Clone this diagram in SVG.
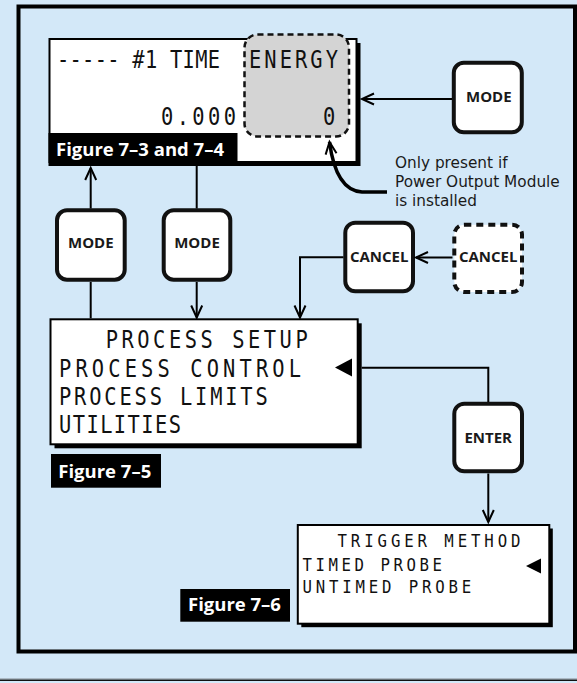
<svg xmlns="http://www.w3.org/2000/svg" width="577" height="683" viewBox="0 0 577 683">
<defs>
<style>
.lcd{font-family:"DejaVu Sans Mono",monospace;fill:#111;}
.big{font-size:24px;}
.sm{font-size:18.5px;}
.btn{fill:#fff;stroke:#111;stroke-width:4;}
.btxt{font-family:"Open Sans","Liberation Sans",sans-serif;font-weight:700;font-size:15px;fill:#1a1a1a;text-anchor:middle;}
.lbl{font-family:"Open Sans","Liberation Sans",sans-serif;font-weight:700;font-size:18.5px;fill:#fff;}
.note{font-family:"DejaVu Sans",sans-serif;font-size:15.3px;fill:#1a1a1a;}
.con{fill:none;stroke:#000;stroke-width:2;}
</style>
<marker id="arr" markerWidth="16" markerHeight="14" refX="13" refY="7" orient="auto" markerUnits="userSpaceOnUse">
<path d="M1,1.5 L13,7 L1,12.5" fill="none" stroke="#000" stroke-width="2"/>
</marker>
</defs>
<rect x="0" y="0" width="577" height="683" fill="#d3e8f8"/>
<rect x="18.5" y="6.5" width="556.5" height="645" fill="none" stroke="#000" stroke-width="4"/>
<line x1="0" y1="678.8" x2="577" y2="678.8" stroke="#9aa6b0" stroke-width="1"/>
<line x1="0" y1="680.2" x2="577" y2="680.2" stroke="#111" stroke-width="1.6"/>

<g id="display-main">
<rect x="53.5" y="43" width="307" height="123" fill="#000"/>
<rect x="49.5" y="39" width="307" height="123" fill="#fff" stroke="#000" stroke-width="2"/>
<rect x="244.5" y="34.5" width="104.5" height="102" rx="13" fill="#d4d4d4" stroke="#111" stroke-width="2.5" stroke-dasharray="6 4"/>
<text class="lcd big" transform="translate(57,67.7) scale(0.85,1)" x="0" y="0" textLength="191.8" lengthAdjust="spacing">----- #1 TIME</text>
<text class="lcd big" transform="translate(249,67.7) scale(0.85,1)" x="0" y="0" textLength="104.7" lengthAdjust="spacing">ENERGY</text>
<text class="lcd big" transform="translate(161,125) scale(0.85,1)" x="0" y="0" textLength="88.2" lengthAdjust="spacing">0.000</text>
<text class="lcd big" transform="translate(323,125) scale(0.85,1)" x="0" y="0">0</text>
<rect x="48.5" y="133" width="189" height="33" fill="#000"/>
<text class="lbl" x="56" y="156">Figure 7–3 and 7–4</text>
</g>

<g id="display-process-setup">
<rect x="54.5" y="323.3" width="307.2" height="125" fill="#000"/>
<rect x="50.5" y="319.3" width="307.2" height="125" fill="#fff" stroke="#000" stroke-width="2"/>
<text class="lcd big" transform="translate(105.7,348.3) scale(0.85,1)" x="0" y="0" textLength="237.6" lengthAdjust="spacing">PROCESS  SETUP</text>
<text class="lcd big" transform="translate(59,376.6) scale(0.85,1)" x="0" y="0" textLength="284.7" lengthAdjust="spacing">PROCESS CONTROL</text>
<text class="lcd big" transform="translate(59,405) scale(0.85,1)" x="0" y="0" textLength="245.6" lengthAdjust="spacing">PROCESS LIMITS</text>
<text class="lcd big" transform="translate(59,433.3) scale(0.85,1)" x="0" y="0" textLength="143.5" lengthAdjust="spacing">UTILITIES</text>
<polygon points="335,367.5 352,358.5 352,376.5" fill="#000"/>
</g>
<g id="label-7-5">
<rect x="51" y="454" width="110" height="33.7" fill="#000"/>
<text class="lbl" x="58.3" y="477.7">Figure 7–5</text>
</g>

<g id="display-trigger">
<rect x="301.3" y="528.5" width="251.5" height="98.7" fill="#000"/>
<rect x="297.8" y="525" width="251.5" height="98.7" fill="#fff" stroke="#000" stroke-width="2"/>
<text class="lcd sm" transform="translate(337.5,546.7) scale(0.85,1)" x="0" y="0" textLength="215.3" lengthAdjust="spacing">TRIGGER METHOD</text>
<text class="lcd sm" transform="translate(302.5,570.7) scale(0.85,1)" x="0" y="0" textLength="164" lengthAdjust="spacing">TIMED PROBE</text>
<text class="lcd sm" transform="translate(302.5,592.7) scale(0.85,1)" x="0" y="0" textLength="198.5" lengthAdjust="spacing">UNTIMED PROBE</text>
<polygon points="526,566 541,558.5 541,573.5" fill="#000"/>
</g>
<g id="label-7-6">
<rect x="180.3" y="589" width="109.7" height="32.7" fill="#000"/>
<text class="lbl" x="188" y="610.7">Figure 7–6</text>
</g>

<g id="btn-mode-right">
<rect class="btn" x="453.8" y="62.8" width="68" height="69.5" rx="10"/>
<text class="btxt" x="488.8" y="101.7">MODE</text>
</g>
<g id="btn-mode-1">
<rect class="btn" x="57" y="210.3" width="67.7" height="69.4" rx="10"/>
<text class="btxt" x="90.8" y="248.3">MODE</text>
</g>
<g id="btn-mode-2">
<rect class="btn" x="163.7" y="210.3" width="66.6" height="69.4" rx="10"/>
<text class="btxt" x="197" y="248.3">MODE</text>
</g>
<g id="btn-cancel">
<rect class="btn" x="345.3" y="222.7" width="67.7" height="68.6" rx="10"/>
<text class="btxt" x="379.2" y="261.7">CANCEL</text>
</g>
<g id="btn-cancel-optional">
<rect class="btn" x="454.3" y="224.7" width="67.7" height="67.3" rx="10" stroke-dasharray="7 5"/>
<text class="btxt" x="488.2" y="261.7">CANCEL</text>
</g>
<g id="btn-enter">
<rect class="btn" x="454.3" y="403.7" width="67.7" height="67.6" rx="10"/>
<text class="btxt" x="488.2" y="442.7">ENTER</text>
</g>

<g id="note">
<text class="note" x="395" y="168.3">Only present if</text>
<text class="note" x="395" y="187">Power Output Module</text>
<text class="note" x="395" y="205.7">is installed</text>
</g>

<g id="connectors">
<line class="con" x1="452" y1="99" x2="362" y2="99" marker-end="url(#arr)"/>
<line class="con" x1="90.7" y1="318.3" x2="90.7" y2="282"/>
<line class="con" x1="90.7" y1="208.5" x2="90.7" y2="168" marker-end="url(#arr)"/>
<line class="con" x1="196.7" y1="166" x2="196.7" y2="208.5"/>
<line class="con" x1="196.7" y1="282" x2="196.7" y2="317.5" marker-end="url(#arr)"/>
<line class="con" x1="452.5" y1="257.5" x2="416" y2="257.5" marker-end="url(#arr)"/>
<path class="con" d="M343.5,257.3 H300 V317.5" marker-end="url(#arr)"/>
<path class="con" d="M361.7,367.7 H488.3 V402"/>
<line class="con" x1="488.3" y1="473.5" x2="488.3" y2="522" marker-end="url(#arr)"/>
<path d="M387,192 L362,192 C345,191 334,176 329.5,142" fill="none" stroke="#000" stroke-width="3.5" marker-end="url(#arr)"/>
</g>
</svg>
